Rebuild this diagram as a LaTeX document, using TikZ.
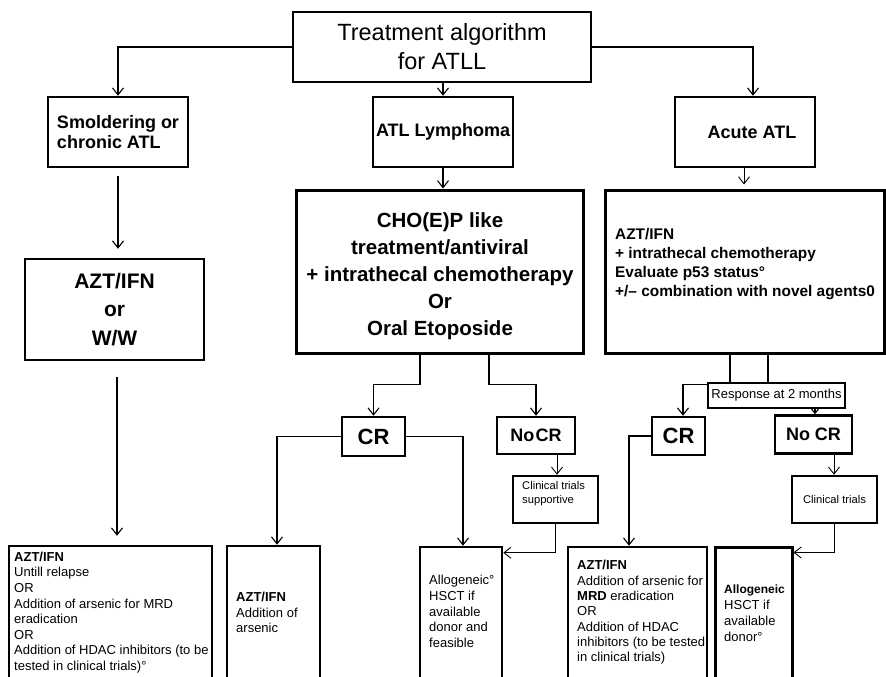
\documentclass[tikz,border=0pt]{standalone}
\usepackage{fontspec}
\setmainfont{Liberation Sans}
\usetikzlibrary{arrows.meta}
\newcommand\fsz[2]{\fontsize{#1}{#2}\selectfont}
\begin{document}
\begin{tikzpicture}[x=1pt,y=-1pt,
  bx/.style={draw, line width=2.5pt, inner sep=0pt, fill=white},
  tx/.style={inner sep=0pt, align=center},
  tl/.style={inner sep=0pt, align=left, anchor=west},
  arr/.style={line width=1.1pt, -{Straight Barb[length=7pt,width=11pt]}},
  ln/.style={line width=1.1pt}]
\useasboundingbox (0,0) rectangle (886,677);
\fill[white] (0,0) rectangle (886,677);
\clip (0,0) rectangle (886,677);

% top level
\node[bx, line width=2pt, minimum width=298pt, minimum height=70pt, align=center, font=\fsz{23.5}{29}] (title) at (442,47) {Treatment algorithm\\for ATLL};
\node[bx, minimum width=140pt, minimum height=70pt, align=left, font=\bfseries\fsz{18}{20}] (smold) at (118,132) {Smoldering or\\chronic ATL};
\node[bx, minimum width=140pt, minimum height=70pt, font=\bfseries\fsz{18}{20}] (lymph) at (443,132) {ATL Lymphoma};
\node[bx, minimum width=140pt, minimum height=70pt, font=\bfseries\fsz{18}{20}] (acute) at (745,132) {\hspace{14pt}Acute ATL};

% second level
\node[bx, minimum width=179pt, minimum height=101pt, align=center, font=\bfseries\fsz{21}{28.5}] (aztww) at (114.5,309.5) {AZT/IFN\\or\\W/W};
\node[bx, line width=3pt, minimum width=287pt, minimum height=163pt] (cho) at (439.5,271.5) {};
\node[tx, font=\bfseries\fsz{20.5}{27}] (chotx) at (440,276) {CHO(E)P like\\treatment/antiviral\\+ intrathecal chemotherapy\\Or\\Oral Etoposide};
\node[bx, line width=3pt, minimum width=279pt, minimum height=163pt] (acutetx) at (744.5,271.5) {};
\node[tl, font=\bfseries\fsz{15.4}{19}] (acutetxT) at (615,264.5) {AZT/IFN\\+ intrathecal chemotherapy\\Evaluate p53 status°\\+/– combination with novel agents0};

% responses
\node[bx, minimum width=63pt, minimum height=39pt, font=\bfseries\fsz{22}{24}] (cr1) at (373.5,436.5) {CR};
\node[bx, minimum width=78pt, minimum height=37pt, font=\bfseries\fsz{18}{20}] (nocr1) at (536,435.5) {No\hspace{1.5pt}CR};
\node[bx, minimum width=53pt, minimum height=38pt, font=\bfseries\fsz{22}{24}] (cr2) at (678.5,436) {CR};
\node[bx, minimum width=77pt, minimum height=38pt, font=\bfseries\fsz{18}{20}] (nocr2) at (813.5,434.5) {No CR};

% clinical trials
\node[bx, minimum width=85pt, minimum height=47pt] (cts) at (555.5,499.5) {};
\node[tl, font=\fsz{11.2}{13.5}] (ctsT) at (522,493.5) {Clinical trials\\supportive};
\node[bx, minimum width=85pt, minimum height=47pt, font=\fsz{11.2}{13.5}] (ct2) at (834.5,499.5) {Clinical trials};

% bottom boxes
\node[bx, minimum width=203pt, minimum height=154pt] (btl) at (110.5,623) {};
\node[tl, font=\fsz{13}{15.6}] (btlT) at (14,612.5) {\textbf{AZT/IFN}\\Untill relapse\\OR\\Addition of arsenic for MRD\\eradication\\OR\\Addition of HDAC inhibitors (to be\\tested in clinical trials)°};
\node[bx, minimum width=93pt, minimum height=154pt] (ars) at (273.5,623) {};
\node[tl, font=\fsz{13}{15.6}] (arsT) at (236,612.5) {\textbf{AZT/IFN}\\Addition of\\arsenic};
\node[bx, minimum width=82pt, minimum height=152pt] (allo1) at (461,623) {};
\node[tl, font=\fsz{13}{15.8}] (allo1T) at (429,611.5) {Allogeneic°\\HSCT if\\available\\donor and\\feasible};
\node[bx, minimum width=139pt, minimum height=152pt] (aztR) at (637.5,623) {};
\node[tl, font=\fsz{13}{15.3}] (aztRT) at (577,612.5) {\textbf{AZT/IFN}\\Addition of arsenic for\\\textbf{MRD} eradication\\OR\\Addition of HDAC\\inhibitors (to be tested\\in clinical trials)};
\node[bx, line width=3pt, minimum width=77pt, minimum height=152pt] (allo2) at (753.5,623) {};
\node[tl, font=\fsz{13}{16}] (allo2T) at (724,613) {{\bfseries\fsz{12}{16}Allogeneic}\\HSCT if\\available\\donor°};

% connectors
\draw[arr] (title.west) -| (smold.north);
\draw[arr] (title.east) -| ([xshift=8pt]acute.north);
\draw[arr] (lymph.north |- title.south) -- (lymph.north);
\draw[arr] ([yshift=-8pt]smold.south) -- ([yshift=9pt]smold.south |- aztww.north);
\draw[arr] (lymph.south) -- (lymph.south |- cho.north);
\draw[arr, line width=0.9pt, shorten >=4pt] ([xshift=-1pt]acute.south) -- ([xshift=-1pt]acute.south |- acutetx.north);
\draw[arr, shorten >=9pt] ([xshift=2.5pt,yshift=-16pt]aztww.south) -- ([xshift=2.5pt]aztww.south |- btl.north);

\draw[arr] ([xshift=-19.5pt]cho.south) -- ++(0,30) -| (cr1.north);
\draw[arr] ([xshift=49.5pt]cho.south) -- ++(0,30) -| (nocr1.north);
\draw[arr] (cr1.west) -| ([xshift=3.5pt]ars.north);
\draw[arr] (cr1.east) -| ([xshift=2pt]allo1.north);
\draw[arr, line width=0.9pt] ([xshift=21pt]nocr1.south) -- ([xshift=21pt]nocr1.south |- cts.north);
\draw[arr, line width=0.9pt] (cts.south) |- ([yshift=-7pt]allo1.north east);

\draw[arr] ([xshift=23.5pt]acutetx.south) -- ++(0,30) -| ([xshift=1.5pt]nocr2.north);
\draw[arr] ([xshift=-14.5pt]acutetx.south) -- ++(0,30) -| ([xshift=4.5pt]cr2.north);
\node[draw, line width=1.2pt, fill=white, inner sep=0pt, minimum width=137pt, minimum height=25pt, font=\fsz{13}{15}] (resp) at (776.5,395.5) {Response at 2 months};
\draw[arr] (cr2.west) -| ([xshift=-8.5pt]aztR.north);
\draw[arr, line width=0.9pt] ([xshift=20.5pt]nocr2.south) -- ([xshift=20.5pt]nocr2.south |- ct2.north);
\draw[arr, line width=0.9pt] (ct2.south) |- ([yshift=-7pt]allo2.north east);
\end{tikzpicture}
\end{document}
